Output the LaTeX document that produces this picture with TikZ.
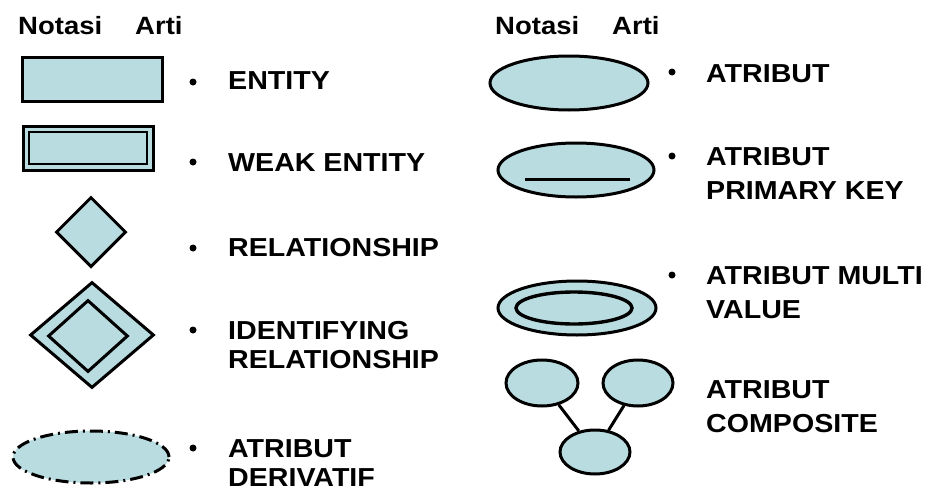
\documentclass[tikz,border=0pt]{standalone}
\usepackage{fontspec}
\setmainfont{Liberation Sans}[FakeStretch=1.1]
\usetikzlibrary{shapes.geometric}
\definecolor{erfill}{RGB}{185,220,224}
\begin{document}
\begin{tikzpicture}[x=1pt, y=-1pt,
  shp/.style={draw, line width=3pt, fill=erfill, inner sep=0pt},
  head/.style={anchor=base west, inner sep=0pt, font=\fontsize{25}{30}\selectfont\bfseries},
  lbl/.style={anchor=base west, inner sep=0pt, align=left, font=\fontsize{26}{29}\selectfont\bfseries},
  rlbl/.style={lbl, font=\fontsize{26}{34}\selectfont\bfseries},
  dot/.style={circle, fill, inner sep=0pt, minimum size=7pt}]
  \useasboundingbox (0,0) rectangle (930,498);
  \node[head] (notasiL) at (18,34) {Notasi};
  \node[head] (artiL) at (135,34) {Arti};
  \node[head] (notasiR) at (495,34) {Notasi};
  \node[head] (artiR) at (612,34) {Arti};
  \node[shp, rectangle, minimum width=140pt, minimum height=44pt] (ent) at (92,79) {};
  \node[shp, rectangle, minimum width=130pt, minimum height=44pt] (weak) at (88,148) {};
  \node[draw, line width=2.5pt, minimum width=118pt, minimum height=32pt] (weakin) at (weak) {};
  \node[shp, diamond, minimum width=70pt, minimum height=70pt] (rel) at (91,232) {};
  \node[shp, diamond, minimum width=124pt, minimum height=106pt] (idrel) at (92,335) {};
  \node[draw, diamond, line width=3pt, inner sep=0pt, minimum width=80pt, minimum height=72pt] (idrelin) at (88,336) {};
  \node[shp, ellipse, dash pattern=on 13pt off 5pt on 2pt off 5pt, minimum width=156pt, minimum height=52pt] (der) at (91,457) {};
  \node[shp, ellipse, minimum width=158pt, minimum height=54pt] (att) at (569,83) {};
  \node[shp, ellipse, minimum width=156pt, minimum height=54pt] (pk) at (576,170) {};
  \draw[line width=3pt] ([xshift=-51pt, yshift=-9pt]pk.center) -- ([xshift=54pt, yshift=-9pt]pk.center);
  \node[shp, ellipse, minimum width=158pt, minimum height=54pt] (mv) at (577,308) {};
  \node[draw, ellipse, line width=3.4pt, inner sep=0pt, minimum width=116pt, minimum height=32pt] (mvin) at (574,308) {};
  \node[shp, ellipse, minimum width=72pt, minimum height=46pt] (ca) at (542,383) {};
  \node[shp, ellipse, minimum width=70pt, minimum height=46pt] (cb) at (638,383) {};
  \node[shp, ellipse, minimum width=70pt, minimum height=44pt] (cc) at (595,452) {};
  \draw[line width=3pt] (ca) -- (cc);
  \draw[line width=3pt] (cb) -- (cc);
  \node[dot] (b1) at (193,82) {};
  \node[dot] (b2) at (193,162) {};
  \node[dot] (b3) at (193,248) {};
  \node[dot] (b4) at (193,330) {};
  \node[dot] (b5) at (193,448) {};
  \node[dot] (b6) at (672,72) {};
  \node[dot] (b7) at (672,156) {};
  \node[dot] (b8) at (672,275) {};
  \node[lbl] (tent) at (228,89) {ENTITY};
  \node[lbl] (tweak) at (228,171) {WEAK ENTITY};
  \node[lbl] (trel) at (228,256) {RELATIONSHIP};
  \node[lbl] (tidrel) at (228,368) {IDENTIFYING\\RELATIONSHIP};
  \node[lbl] (tder) at (228,486) {ATRIBUT\\DERIVATIF};
  \node[rlbl] (tatt) at (706,82) {ATRIBUT};
  \node[rlbl] (tpk) at (706,199) {ATRIBUT\\PRIMARY KEY};
  \node[rlbl] (tmv) at (706,318) {ATRIBUT MULTI\\VALUE};
  \node[rlbl] (tcomp) at (706,432) {ATRIBUT\\COMPOSITE};
\end{tikzpicture}
\end{document}
